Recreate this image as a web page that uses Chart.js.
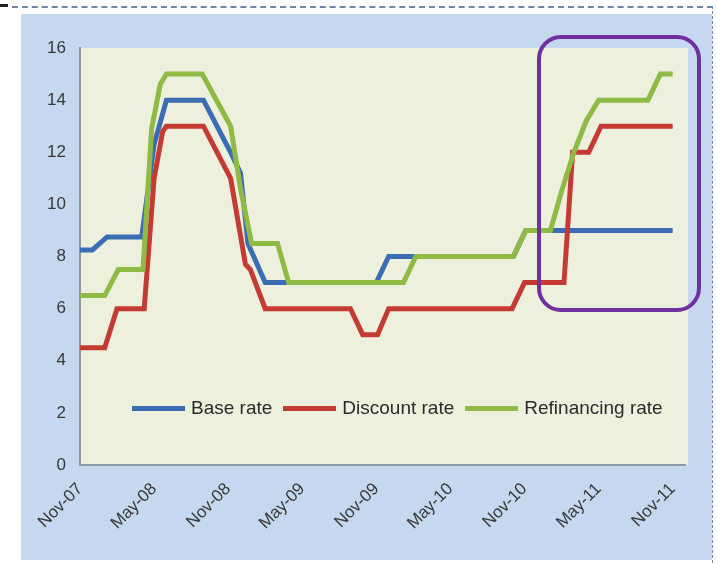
<!DOCTYPE html>
<html>
<head>
<meta charset="utf-8">
<script src="https://cdn.jsdelivr.net/npm/chart.js@4.4.1/dist/chart.umd.min.js"></script>
<style>
  html, body { margin: 0; padding: 0; background: #fff; }
  #wrap { position: relative; width: 717px; height: 563px; overflow: hidden; }
  #panel { position: absolute; left: 21px; top: 14px; width: 691px; height: 546px; background: #c6d8ef; }
  #topdash { position: absolute; left: 12px; top: 6px; width: 701px; border-top: 2px dashed #6f86a6; }
  #rightdash { position: absolute; left: 712px; top: 6px; height: 557px; border-left: 1px dashed #6f86a6; }
  #corner { position: absolute; left: 0; top: 4px; width: 8px; height: 3px; background: #222; }
  #myChart { position: absolute; left: 0; top: 0; }
  #legend { position: absolute; left: 132px; top: 397px; display: flex; align-items: center;
            font-family: "Liberation Sans", Arial, sans-serif; font-size: 19px; color: #2b2b2b; }
  #legend .item { display: flex; align-items: center; margin-right: 11px; }
  #legend .swatch { width: 53px; height: 5px; margin-right: 6px; }
  #mark { position: absolute; left: 537px; top: 35px; width: 156px; height: 269px;
          border: 4px solid #7030a0; border-radius: 24px; }
</style>
</head>
<body>
<div id="wrap">
  <div id="panel"></div>
  <div id="corner"></div>
  <div id="topdash"></div>
  <div id="rightdash"></div>
  <canvas id="myChart" width="717" height="563"></canvas>
  <div id="legend"></div>
  <div id="mark"></div>
</div>
<script>
// months counted from Nov-07
const tickLabels = ['Nov-07','May-08','Nov-08','May-09','Nov-09','May-10','Nov-10','May-11','Nov-11'];
const seriesNames = ['Base rate','Discount rate','Refinancing rate'];
const seriesColors = ['#3c6cb4','#c43b33','#8fba46'];

const baseMonths = [0, 1, 2.2, 5, 6, 7, 10, 12.2, 13, 13.6, 15, 24, 25, 27, 35.1, 36.1, 48];
const baseRates  = [8.25, 8.25, 8.75, 8.75, 12.3, 14, 14, 12, 11.2, 8.5, 7, 7, 8, 8, 8, 9, 9];

const discMonths = [0, 2, 3, 5.2, 6, 6.7, 7, 10, 12.2, 13.4, 13.8, 15, 21.9, 22.9, 24.1, 25, 35, 36, 39.2, 39.9, 41.2, 42.2, 48];
const discRates  = [4.5, 4.5, 6, 6, 11, 12.8, 13, 13, 11, 7.7, 7.5, 6, 6, 5, 5, 6, 6, 7, 7, 12, 12, 13, 13];

const refiMonths = [0, 2, 3.1, 5.1, 5.8, 6.5, 7, 9.9, 12.2, 13, 13.9, 16, 16.9, 26.2, 27.2, 35.1, 36.1, 38.1, 39, 40, 41, 42, 46, 47, 48];
const refiRates  = [6.5, 6.5, 7.5, 7.5, 12.9, 14.6, 15, 15, 13, 10.6, 8.5, 8.5, 7, 7, 8, 8, 9, 9, 10.5, 12, 13.2, 14, 14, 15, 15];

function pts(xs, ys) {
  return xs.map((m, i) => ({ x: m, y: ys[i] }));
}

const plotBg = {
  id: 'plotBg',
  beforeDraw(chart) {
    const a = chart.chartArea;
    const c = chart.ctx;
    c.save();
    c.fillStyle = '#edf0dd';
    c.fillRect(a.left, a.top, a.right - a.left + 3, a.bottom - a.top);
    c.restore();
  }
};

const allData = [pts(baseMonths, baseRates), pts(discMonths, discRates), pts(refiMonths, refiRates)];
const tickFont = { family: '"Liberation Sans", Arial, sans-serif', size: 17 };

const ctx = document.getElementById('myChart').getContext('2d');
const myChart = new Chart(ctx, {
  type: 'line',
  data: {
    datasets: allData.map((d, i) => ({
      label: seriesNames[i],
      data: d,
      borderColor: seriesColors[i],
      borderWidth: 5,
      pointRadius: 0,
      tension: 0,
      fill: false,
      order: 2 - i
    }))
  },
  options: {
    responsive: false,
    animation: false,
    layout: { padding: { left: 20, right: 32, top: 48, bottom: 18 } },
    plugins: { legend: { display: false }, tooltip: { enabled: false } },
    scales: {
      x: {
        type: 'linear',
        min: 0,
        max: 49,
        afterFit(scale) { scale.height = 80; },
        afterBuildTicks(scale) {
          scale.ticks = tickLabels.map((t, i) => ({ value: i * 6 }));
        },
        grid: { display: false, drawTicks: true, tickLength: 6, tickColor: '#8b98a6' },
        border: { color: '#8b98a6', width: 2 },
        ticks: {
          autoSkip: false,
          maxRotation: 45,
          minRotation: 45,
          padding: 8,
          color: '#383838',
          font: tickFont,
          callback: (v) => tickLabels[Math.round(v / 6)]
        }
      },
      y: {
        min: 0,
        max: 16,
        afterFit(scale) { scale.width = 60; },
        grid: { display: false, drawTicks: true, tickLength: 6, tickColor: '#8b98a6' },
        border: { color: '#8b98a6', width: 2 },
        ticks: {
          stepSize: 2,
          color: '#383838',
          padding: 8,
          font: tickFont
        }
      }
    }
  },
  plugins: [plotBg]
});

const legend = document.getElementById('legend');
seriesNames.forEach((name, i) => {
  const item = document.createElement('div');
  item.className = 'item';
  item.innerHTML = '<span class="swatch" style="background:' + seriesColors[i] + '"></span><span>' + name + '</span>';
  legend.appendChild(item);
});
</script>
</body>
</html>
